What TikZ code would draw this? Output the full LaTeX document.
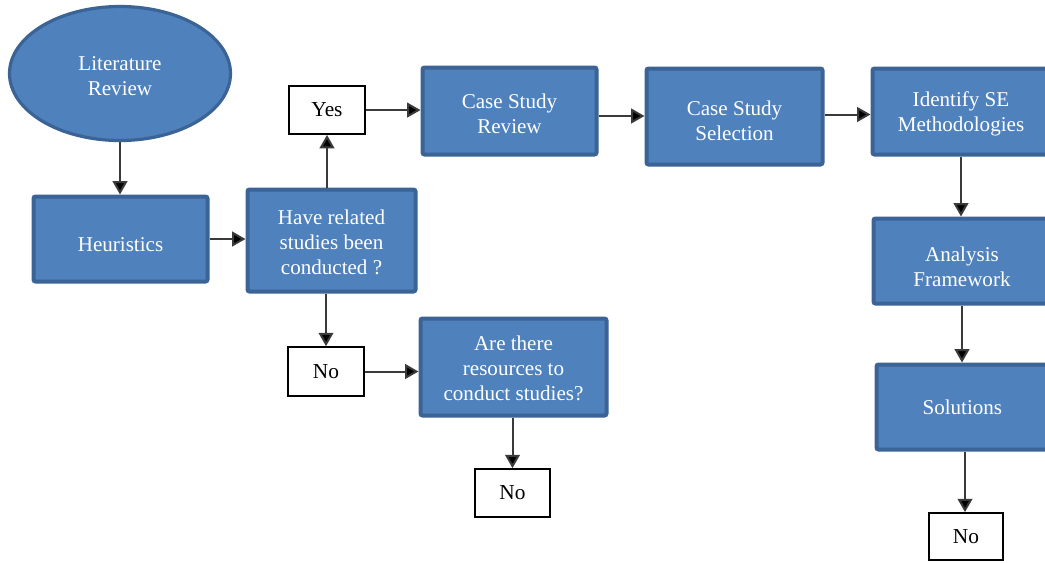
\documentclass[tikz,border=0pt]{standalone}
\usepackage{fontspec}
\setmainfont{Liberation Serif}
\usetikzlibrary{arrows.meta,shapes.geometric}
\definecolor{boxfill}{HTML}{4F81BD}
\definecolor{boxrim}{HTML}{3B6396}
\definecolor{linegray}{HTML}{3A3A3A}
\begin{document}
\begin{tikzpicture}[x=0.75pt,y=-0.75pt,
  bluebox/.style={draw=boxrim,fill=boxfill,line width=3pt,rounded corners=1.5pt,inner sep=0pt},
  lbl/.style={text=white,align=center,inner sep=0pt,
    font=\fontsize{15.8}{18.75}\selectfont},
  answer/.style={draw=black,fill=white,line width=1.3pt,align=center,inner sep=0pt,
    font=\fontsize{16}{19}\selectfont},
  flow/.style={draw=linegray,line width=1.5pt,-{Triangle[length=10pt,width=11pt,fill=black]}}]
\useasboundingbox (0,0) rectangle (1045,562);
\clip (0,0) rectangle (1045,562);

\node[ellipse,draw=boxrim,fill=boxfill,line width=2.4pt,inner sep=0pt,
  minimum width=221*0.75pt,minimum height=134*0.75pt,
  label={[lbl,yshift=-2.2pt]center:{Literature\\Review}}] (lit) at (120,73.5) {};

\node[bluebox,minimum width=174*0.75pt,minimum height=85*0.75pt,
  label={[lbl,yshift=-4pt]center:{Heuristics}}] (heur) at (120.5,239) {};
\node[bluebox,minimum width=168*0.75pt,minimum height=102*0.75pt,
  label={[lbl,yshift=-1.5pt]center:{Have related\\studies been\\conducted ?}}] (have) at (331.5,240.5) {};
\node[answer,minimum width=76*0.75pt,minimum height=48*0.75pt,yshift=-0.8pt] (yes) at (327,109) {Yes};
\node[bluebox,minimum width=174*0.75pt,minimum height=87*0.75pt,
  label={[lbl,yshift=-2.2pt]center:{Case Study\\Review}}] (csr) at (509.5,111) {};
\node[bluebox,minimum width=176*0.75pt,minimum height=96*0.75pt,
  label={[lbl,yshift=-3pt]center:{Case Study\\Selection}}] (css) at (734.5,116.5) {};
\node[bluebox,minimum width=177*0.75pt,minimum height=86*0.75pt,
  label={[lbl,yshift=-1.5pt]center:{Identify SE\\Methodologies}}] (ise) at (961,111.5) {};
\node[bluebox,minimum width=177*0.75pt,minimum height=85*0.75pt,
  label={[lbl,yshift=-4pt]center:{Analysis\\Framework}}] (af) at (962,261) {};
\node[bluebox,minimum width=177*0.75pt,minimum height=85*0.75pt,
  label={[lbl,xshift=-2pt]center:{Solutions}}] (sol) at (965,407) {};
\node[answer,minimum width=74*0.75pt,minimum height=47*0.75pt] (nor) at (966,536.5) {No};
\node[answer,minimum width=76*0.75pt,minimum height=49*0.75pt] (nol) at (326,371.5) {No};
\node[bluebox,minimum width=186*0.75pt,minimum height=97*0.75pt,
  label={[lbl,yshift=-0.8pt]center:{Are there\\resources to\\conduct studies?}}] (are) at (513.5,367) {};
\node[answer,minimum width=75*0.75pt,minimum height=48*0.75pt] (nom) at (512.5,493) {No};

\draw[flow] (lit.south) -- (lit.south |- heur.north);
\draw[flow] (heur.east) -- (heur.east -| have.west);
\draw[flow] (have.north -| yes.south) -- (yes.south);
\draw[flow] (yes.east) -- (yes.east -| csr.west);
\draw[flow] (csr.east) ++(0,5) coordinate (c1) (c1) -- (c1 -| css.west);
\draw[flow] (css.east) ++(0,-2) coordinate (c2) (c2) -- (c2 -| ise.west);
\draw[flow] (ise.south) -- (ise.south |- af.north);
\draw[flow] (af.south) -- (af.south |- sol.north);
\draw[flow] (sol.south) -- (sol.south |- nor.north);
\draw[flow] (have.south -| nol.north) -- (nol.north);
\draw[flow] (nol.east) -- (nol.east -| are.west);
\draw[flow] (are.south -| nom.north) -- (nom.north);
\end{tikzpicture}
\end{document}
